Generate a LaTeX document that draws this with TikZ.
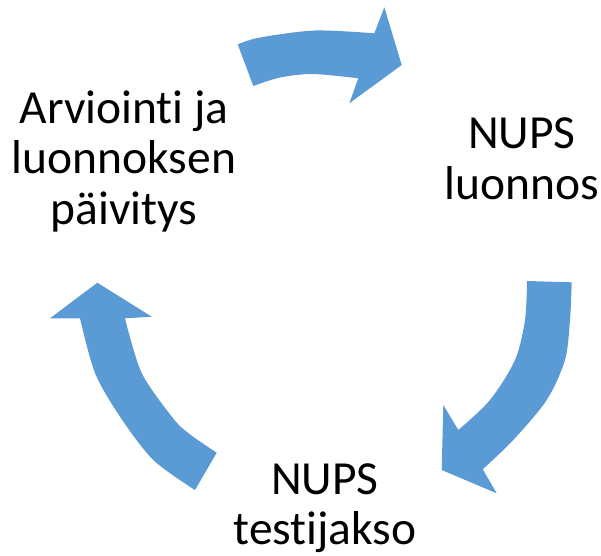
\documentclass[tikz,border=0pt]{standalone}
\usepackage{fontspec}
\setmainfont[Ligatures={NoCommon,NoContextual}]{Carlito}
\begin{document}
\begin{tikzpicture}[x=1pt,y=-1pt]
\definecolor{cycblue}{HTML}{5B9BD5}
\tikzset{
  cyclearrow/.style={fill=cycblue},
  cycletext/.style={align=center, inner sep=0pt, text=black,
    font=\fontsize{47.5}{50.5}\selectfont}
}
\useasboundingbox (0,0) rectangle (601,555);

% top arrow: left label -> right label
\fill[cyclearrow]
  plot[smooth] coordinates {(237.7,44.3) (260,37.5) (315,30.5) (374.3,33.3)}
  -- (384.3,7.3) -- (401.7,65) -- (349.3,103.3)
  -- plot[smooth] coordinates {(358.3,78.3) (313,74) (280,77.5) (253.3,86)}
  -- cycle;

% right arrow: right label -> bottom label
\fill[cyclearrow]
  plot[smooth] coordinates {(527,281) (525,320) (515,360) (490,400) (458.3,430)}
  -- (443.3,405) -- (441.7,470) -- (496.7,493.3)
  -- plot[smooth] coordinates {(482.7,469.3) (513.3,440) (546.7,400) (565,360) (570,320) (571.7,282.3)}
  -- cycle;

% left arrow: bottom label -> left label
\fill[cyclearrow]
  plot[smooth] coordinates {(195,490) (153.3,460) (120,416.7) (95,373) (80,318.3)}
  -- (50,318.3) -- (97.3,282.7) -- (151.7,316.7)
  -- plot[smooth] coordinates {(125,318.3) (141.7,373) (173.3,418.5) (190,434.4) (216.7,452.7)}
  -- cycle;

\node[cycletext] (review) at (124,161) {Arviointi ja\\luonnoksen\\päivitys};
\node[cycletext] (draft) at (522,159) {NUPS\\luonnos};
\node[cycletext] (trial) at (325,508) {NUPS\\testijakso};
\end{tikzpicture}
\end{document}
